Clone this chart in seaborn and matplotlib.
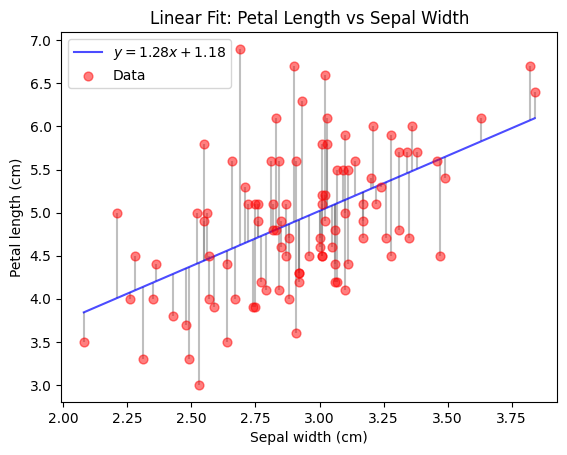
import numpy as np
import seaborn as sns
import matplotlib.pyplot as plt

# Sepal width (x) and petal length (y)
sepal_width = [
    2.69, 2.90, 3.82, 3.02, 3.84, 2.93, 2.83, 3.03, 3.63, 3.21,
    3.36, 3.10, 3.28, 2.55, 3.01, 3.03, 3.31, 3.34, 3.38, 2.66,
    2.81, 2.84, 2.91, 3.14, 3.46, 3.07, 3.09, 3.11, 3.20, 3.49,
    2.71, 3.24, 3.01, 3.02, 2.72, 2.75, 2.76, 2.82, 2.87, 3.01,
    3.17, 3.22, 2.21, 2.52, 2.56, 3.10, 2.55, 2.76, 2.85, 3.02,
    3.17, 2.82, 2.83, 3.06, 3.31, 2.88, 3.00, 3.17, 3.26, 3.35,
    2.85, 3.00, 3.05, 2.28, 2.57, 2.87, 2.96, 3.01, 3.01, 3.28,
    3.47, 2.36, 2.64, 3.06, 3.11, 2.92, 2.92, 2.77, 2.92, 3.06,
    3.07, 2.79, 2.84, 3.10, 2.26, 2.35, 2.57, 2.67, 2.88, 2.59,
    2.74, 2.75, 2.43, 2.48, 2.91, 2.08, 2.64, 2.31, 2.49, 2.53,
]
petal_length = [
    6.9, 6.7, 6.7, 6.6, 6.4, 6.3, 6.1, 6.1, 6.1, 6.0,
    6.0, 5.9, 5.9, 5.8, 5.8, 5.8, 5.7, 5.7, 5.7, 5.6,
    5.6, 5.6, 5.6, 5.6, 5.6, 5.5, 5.5, 5.5, 5.4, 5.4,
    5.3, 5.3, 5.2, 5.2, 5.1, 5.1, 5.1, 5.1, 5.1, 5.1,
    5.1, 5.1, 5.0, 5.0, 5.0, 5.0, 4.9, 4.9, 4.9, 4.9,
    4.9, 4.8, 4.8, 4.8, 4.8, 4.7, 4.7, 4.7, 4.7, 4.7,
    4.6, 4.6, 4.6, 4.5, 4.5, 4.5, 4.5, 4.5, 4.5, 4.5,
    4.5, 4.4, 4.4, 4.4, 4.4, 4.3, 4.3, 4.2, 4.2, 4.2,
    4.2, 4.1, 4.1, 4.1, 4.0, 4.0, 4.0, 4.0, 4.0, 3.9,
    3.9, 3.9, 3.8, 3.7, 3.6, 3.5, 3.5, 3.3, 3.3, 3.0,
]

# fit coefficients as shown in the legend
slope = 1.28
intercept = 1.18

x = np.array(sepal_width)
y = np.array(petal_length)
y_fit = slope * x + intercept

fig, ax = plt.subplots(figsize=(6.4, 4.8))

# residuals
ax.vlines(x, y, y_fit, color='gray', alpha=0.5, linewidth=1.5)

order = np.argsort(x)
ax.plot(x[order], y_fit[order], color='blue', alpha=0.7,
        label=f'$y = {slope:.2f}x + {intercept:.2f}$')
sns.scatterplot(x=x, y=y, color='red', alpha=0.5, s=40,
                edgecolor='red', linewidth=1, label='Data', ax=ax, zorder=3)

ax.set_title('Linear Fit: Petal Length vs Sepal Width')
ax.set_xlabel('Sepal width (cm)')
ax.set_ylabel('Petal length (cm)')
ax.legend(loc='upper left')

plt.savefig('out.png', dpi=100, bbox_inches='tight')
